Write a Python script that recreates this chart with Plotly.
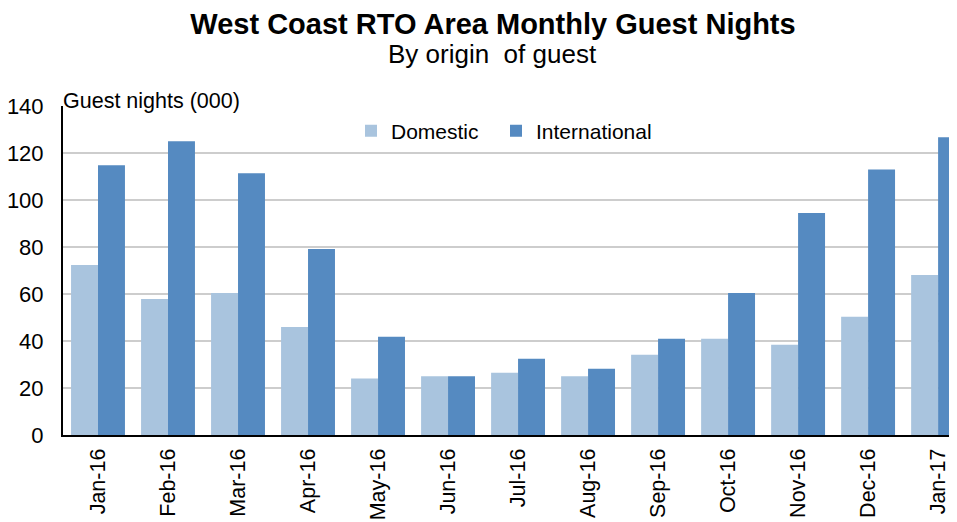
import plotly.graph_objects as go

months = ["Jan-16", "Feb-16", "Mar-16", "Apr-16", "May-16", "Jun-16", "Jul-16",
          "Aug-16", "Sep-16", "Oct-16", "Nov-16", "Dec-16", "Jan-17"]
domestic = [72.3, 57.9, 60.4, 46.0, 24.0, 25.0, 26.5, 25.0, 34.2, 41.0, 38.4, 50.3, 68.1]
international = [114.8, 125.0, 111.4, 79.1, 41.8, 25.0, 32.5, 28.2, 41.0, 60.4, 94.5, 113.0, 126.7]
y_ticks = [0, 20, 40, 60, 80, 100, 120, 140]

FONT = "Liberation Sans, Arial, sans-serif"

# The page body has an 8px margin, so the figure is sized/placed to compensate.
W, H = 949, 514
L, T, B = 55, 98, 87
PH = H - T - B  # plot height in px

def py(page_y):
    return (H - B - (page_y - 8)) / PH

def px(page_x):
    return (page_x - 8 - L) / (W - L)

fig = go.Figure()
fig.add_trace(go.Bar(x=months, y=domestic, name="Domestic", legend="legend",
                     marker=dict(color="#A9C4DE", line=dict(width=0))))
fig.add_trace(go.Bar(x=months, y=international, name="International", legend="legend2",
                     marker=dict(color="#558AC1", line=dict(width=0))))

leg_common = dict(orientation="h", xanchor="left", y=py(131), yanchor="middle",
                  font=dict(size=21, family=FONT), bgcolor="rgba(0,0,0,0)", itemwidth=30)

fig.update_layout(
    width=W, height=H,
    margin=dict(l=L, r=0, t=T, b=B, autoexpand=False),
    paper_bgcolor="white", plot_bgcolor="white",
    barmode="group", bargap=0.23, bargroupgap=0,
    font=dict(family=FONT, color="black"),
    title=dict(text="<b>West Coast RTO Area Monthly Guest Nights</b>",
               x=(493 - 8) / W, xanchor="center", xref="container",
               y=1 - (24 - 8) / H, yanchor="middle", yref="container",
               font=dict(size=29, family=FONT, color="black")),
    showlegend=True,
    legend=dict(x=px(351), **leg_common),
    legend2=dict(x=px(496), **leg_common),
    xaxis=dict(range=[-0.5, 12.27], tickangle=-90, tickfont=dict(size=21.5),
               showline=True, linecolor="black", linewidth=2, ticks="",
               showgrid=False, ticklabelstandoff=3, fixedrange=True, automargin=False),
    yaxis=dict(range=[0, 140], tickvals=y_ticks, tickfont=dict(size=22),
               showline=True, linecolor="black", linewidth=2,
               showgrid=True, gridcolor="#CDCDCD", gridwidth=1.5,
               ticks="", ticklabelstandoff=13, zeroline=False, fixedrange=True,
               automargin=False),
    annotations=[
        dict(text="By origin  of guest", xref="paper", yref="paper",
             x=px(492.5), y=py(54), xanchor="center", yanchor="middle",
             showarrow=False, font=dict(size=26, family=FONT)),
        dict(text="Guest nights (000)", xref="paper", yref="paper",
             x=px(61), y=py(101), xanchor="left", yanchor="middle",
             showarrow=False, font=dict(size=21.5, family=FONT)),
    ],
)

fig.write_html("out.html")
